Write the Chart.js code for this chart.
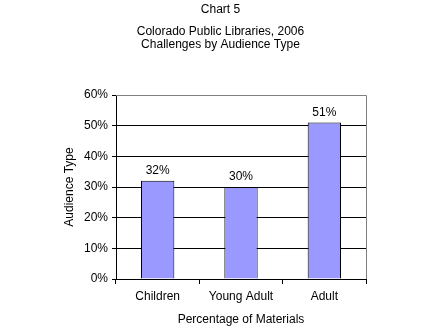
<!DOCTYPE html>
<html><head><meta charset="utf-8">
<script src="https://cdn.jsdelivr.net/npm/chart.js@4/dist/chart.umd.min.js"></script>
<style>html,body{margin:0;padding:0;background:#fff}#wrap{width:441px;height:335px}</style>
</head><body><div id="wrap"><canvas id="c" width="441" height="335"></canvas></div>
<script>
const categories = ["Children", "Young Adult", "Adult"];
const values = [32, 30, 51];
const valueLabels = ["32%", "30%", "51%"];
const yTicks = [0, 10, 20, 30, 40, 50, 60];

const FONT = "'Liberation Sans', Arial, sans-serif";

const labelsPlugin = {
  id: 'barLabels',
  afterDatasetsDraw(chart) {
    const ctx = chart.ctx;
    const meta = chart.getDatasetMeta(0);
    ctx.save();
    ctx.font = "12px " + FONT;
    ctx.fillStyle = "#000";
    ctx.textAlign = "center";
    ctx.textBaseline = "alphabetic";
    meta.data.forEach((el, i) => {
      ctx.fillText(valueLabels[i], el.x, el.y - 7);
    });
    ctx.restore();
  }
};
const borderPlugin = {
  id: 'plotBorder',
  afterDraw(chart) {
    const a = chart.chartArea, ctx = chart.ctx;
    ctx.save();
    ctx.strokeStyle = "#808080";
    ctx.lineWidth = 1;
    ctx.beginPath();
    ctx.moveTo(a.left, a.top + 0.5);
    ctx.lineTo(a.right + 0.5, a.top + 0.5);
    ctx.lineTo(a.right + 0.5, a.bottom);
    ctx.stroke();
    ctx.restore();
  }
};

new Chart(document.getElementById('c'), {
  type: 'bar',
  data: {
    labels: categories,
    datasets: [{
      data: values,
      backgroundColor: '#9999ff',
      borderColor: '#000',
      borderWidth: 1,
      barPercentage: 0.4,
      categoryPercentage: 1.0
    }]
  },
  plugins: [labelsPlugin, borderPlugin],
  options: {
    responsive: false,
    animation: false,
    devicePixelRatio: 1,
    layout: { padding: { left: 0, right: 0, top: 0, bottom: 8 } },
    plugins: {
      legend: { display: false },
      tooltip: { enabled: false },
      title: {
        display: true,
        text: "Chart 5",
        color: "#000",
        font: { family: FONT, size: 12, weight: 'normal' },
        padding: { top: 2, bottom: 8 }
      },
      subtitle: {
        display: true,
        text: ["Colorado Public Libraries, 2006", "Challenges by Audience Type"],
        color: "#000",
        font: { family: FONT, size: 12, weight: 'normal', lineHeight: 1.15 },
        padding: { top: 0, bottom: 43 }
      }
    },
    scales: {
      y: {
        min: 0, max: 60,
        afterBuildTicks: s => { s.ticks = yTicks.map(v => ({ value: v })); },
        afterFit: s => { s.width = 116; },
        ticks: {
          callback: v => v + "%",
          color: "#000",
          font: { family: FONT, size: 12 },
          padding: 4
        },
        grid: {
          color: ctx => (ctx.tick && ctx.tick.value === 60) ? "#808080" : "#000",
          tickColor: "#000",
          tickLength: 4,
          lineWidth: 1
        },
        border: { color: "#000" },
        title: {
          display: true,
          text: "Audience Type",
          color: "#000",
          font: { family: FONT, size: 12 },
          padding: { top: 62, bottom: 0 }
        }
      },
      yr: {
        position: 'right',
        display: true,
        afterFit: s => { s.width = 75; },
        ticks: { display: false },
        grid: { display: false },
        border: { display: false }
      },
      x: {
        afterFit: s => { s.height = 48; },
        ticks: {
          color: "#000",
          font: { family: FONT, size: 12 },
          padding: 5
        },
        grid: {
          offset: true,
          drawOnChartArea: false,
          tickColor: "#000",
          tickLength: 5
        },
        border: { color: "#000" },
        title: {
          display: true,
          text: "Percentage of Materials",
          color: "#000",
          font: { family: FONT, size: 12 },
          padding: { top: 7, bottom: 0 }
        }
      }
    }
  }
});
</script>
</body></html>
